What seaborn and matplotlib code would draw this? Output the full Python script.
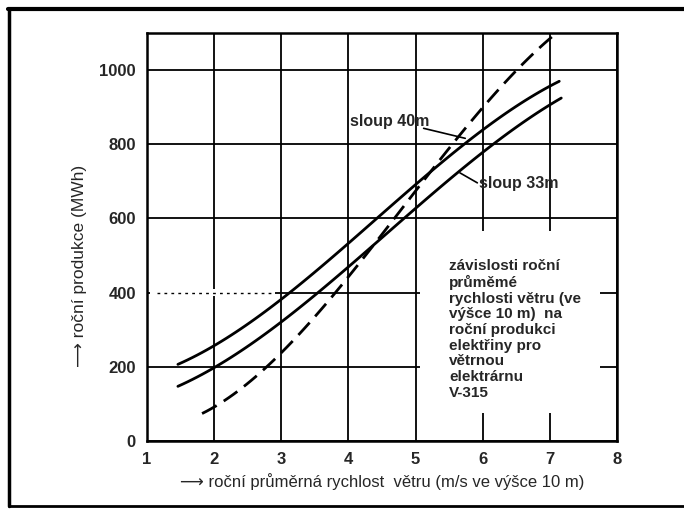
import matplotlib
matplotlib.use("Agg")
import matplotlib.pyplot as plt
import seaborn as sns
import pandas as pd
import numpy as np
from matplotlib.patches import Rectangle
from matplotlib.lines import Line2D

# ---- data ----
x_upper = [1.46, 2.0, 3.0, 4.0, 4.5, 5.0, 6.0, 7.14]
y_upper = [205, 257, 390, 528, 603, 697, 843, 968]
x_lower = [1.46, 2.0, 3.0, 4.0, 4.5, 5.0, 6.0, 7.17]
y_lower = [146, 199, 323, 470, 546, 623, 784, 923]
x_dash = [1.82, 2.0, 3.0, 4.0, 4.5, 5.0, 5.5, 6.0, 7.06]
y_dash = [70, 93, 248, 440, 541, 680, 795, 901, 1092]
x_ticks = [1, 2, 3, 4, 5, 6, 7, 8]
y_ticks = [0, 200, 400, 600, 800, 1000]
label_40 = "sloup 40m"
label_33 = "sloup 33m"
note = ("závislosti roční\nprůměmé\nrychlosti větru (ve\nvýšce 10 m)  na\n"
        "roční produkci\nelektřiny pro\nvětrnou\nelektrárnu\nV-315")
xlabel = "⟶ roční průměrná rychlost  větru (m/s ve výšce 10 m)"
ylabel = "⟶ roční produkce (MWh)"


def smooth(xs, ys, n=80):
    xs = np.asarray(xs, float); ys = np.asarray(ys, float)
    p = np.polyfit(xs, ys, 3)
    xx = np.linspace(xs[0], xs[-1], n)
    return xx, np.polyval(p, xx)

frames = []
for name, xs, ys in [("upper", x_upper, y_upper), ("lower", x_lower, y_lower), ("dash", x_dash, y_dash)]:
    xx, yy = smooth(xs, ys)
    frames.append(pd.DataFrame({"x": xx, "y": yy, "curve": name}))
df = pd.concat(frames, ignore_index=True)

sns.set_style("white")
plt.rcParams["font.family"] = ["Liberation Sans Narrow", "Liberation Sans", "DejaVu Sans"]

fig = plt.figure(figsize=(6.84, 5.09), dpi=100)
ax = fig.add_axes([147/684, 1-441/509, (617-147)/684, (441-33)/509])

ax.set_xlim(1.05, 8)
ax.set_ylim(0, 1100)
ax.set_xticks(x_ticks)
ax.set_yticks(y_ticks)
ax.set_axisbelow(True)
ax.grid(True, color="black", lw=1.3)

# white area behind the note (grid interrupted there)
ax.add_patch(Rectangle((5.07, 75), 2.68, 490, facecolor="white", edgecolor="none", zorder=1))
# dotted left part of the 400 grid line
ax.add_patch(Rectangle((1.05, 390), 1.85, 20, facecolor="white", edgecolor="none", zorder=1))
ax.plot([1.15, 2.9], [400, 400], color="black", lw=1.0, ls=(0, (2, 3)), zorder=1.5)

sns.lineplot(data=df, x="x", y="y", units="curve", estimator=None,
             style="curve", dashes={"upper": "", "lower": "", "dash": (6, 3)},
             color="black", lw=2.0, legend=False, ax=ax, sort=False, zorder=3)

for s in ax.spines.values():
    s.set_color("black")
    s.set_linewidth(1.8)
    s.set_visible(True)

ax.tick_params(axis="both", length=0, labelsize=12, pad=8)
for t in ax.get_xticklabels() + ax.get_yticklabels():
    t.set_fontweight("bold")
ax.set_xlabel(xlabel, fontsize=12, labelpad=4)
ax.set_ylabel(ylabel, fontsize=12.5)
ax.yaxis.set_label_coords(-0.128, 0.43)

ax.text(4.02, 862, label_40, fontsize=11.5, fontweight="bold", va="center", ha="left", zorder=4)
ax.plot([5.12, 5.74], [843, 816], color="black", lw=1.2, zorder=4)
ax.text(5.95, 693, label_33, fontsize=11.5, fontweight="bold", va="center", ha="left", zorder=4)
ax.plot([5.66, 5.92], [723, 696], color="black", lw=1.2, zorder=4)

ax.text(5.5, 490, note, fontsize=11, fontweight="bold", va="top", ha="left",
        linespacing=1.15, zorder=4,
        family=["Liberation Sans", "DejaVu Sans"])

# outer frame of the scanned page
fig.add_artist(Line2D([8/684, 1.0], [1-9/509, 1-9/509], color="black", lw=3, transform=fig.transFigure))
fig.add_artist(Line2D([9/684, 9/684], [1-9/509, 1-506/509], color="black", lw=2.5, transform=fig.transFigure))
fig.add_artist(Line2D([9/684, 1.0], [1-506/509, 1-506/509], color="black", lw=2, transform=fig.transFigure))

fig.savefig("out.png", dpi=100)
